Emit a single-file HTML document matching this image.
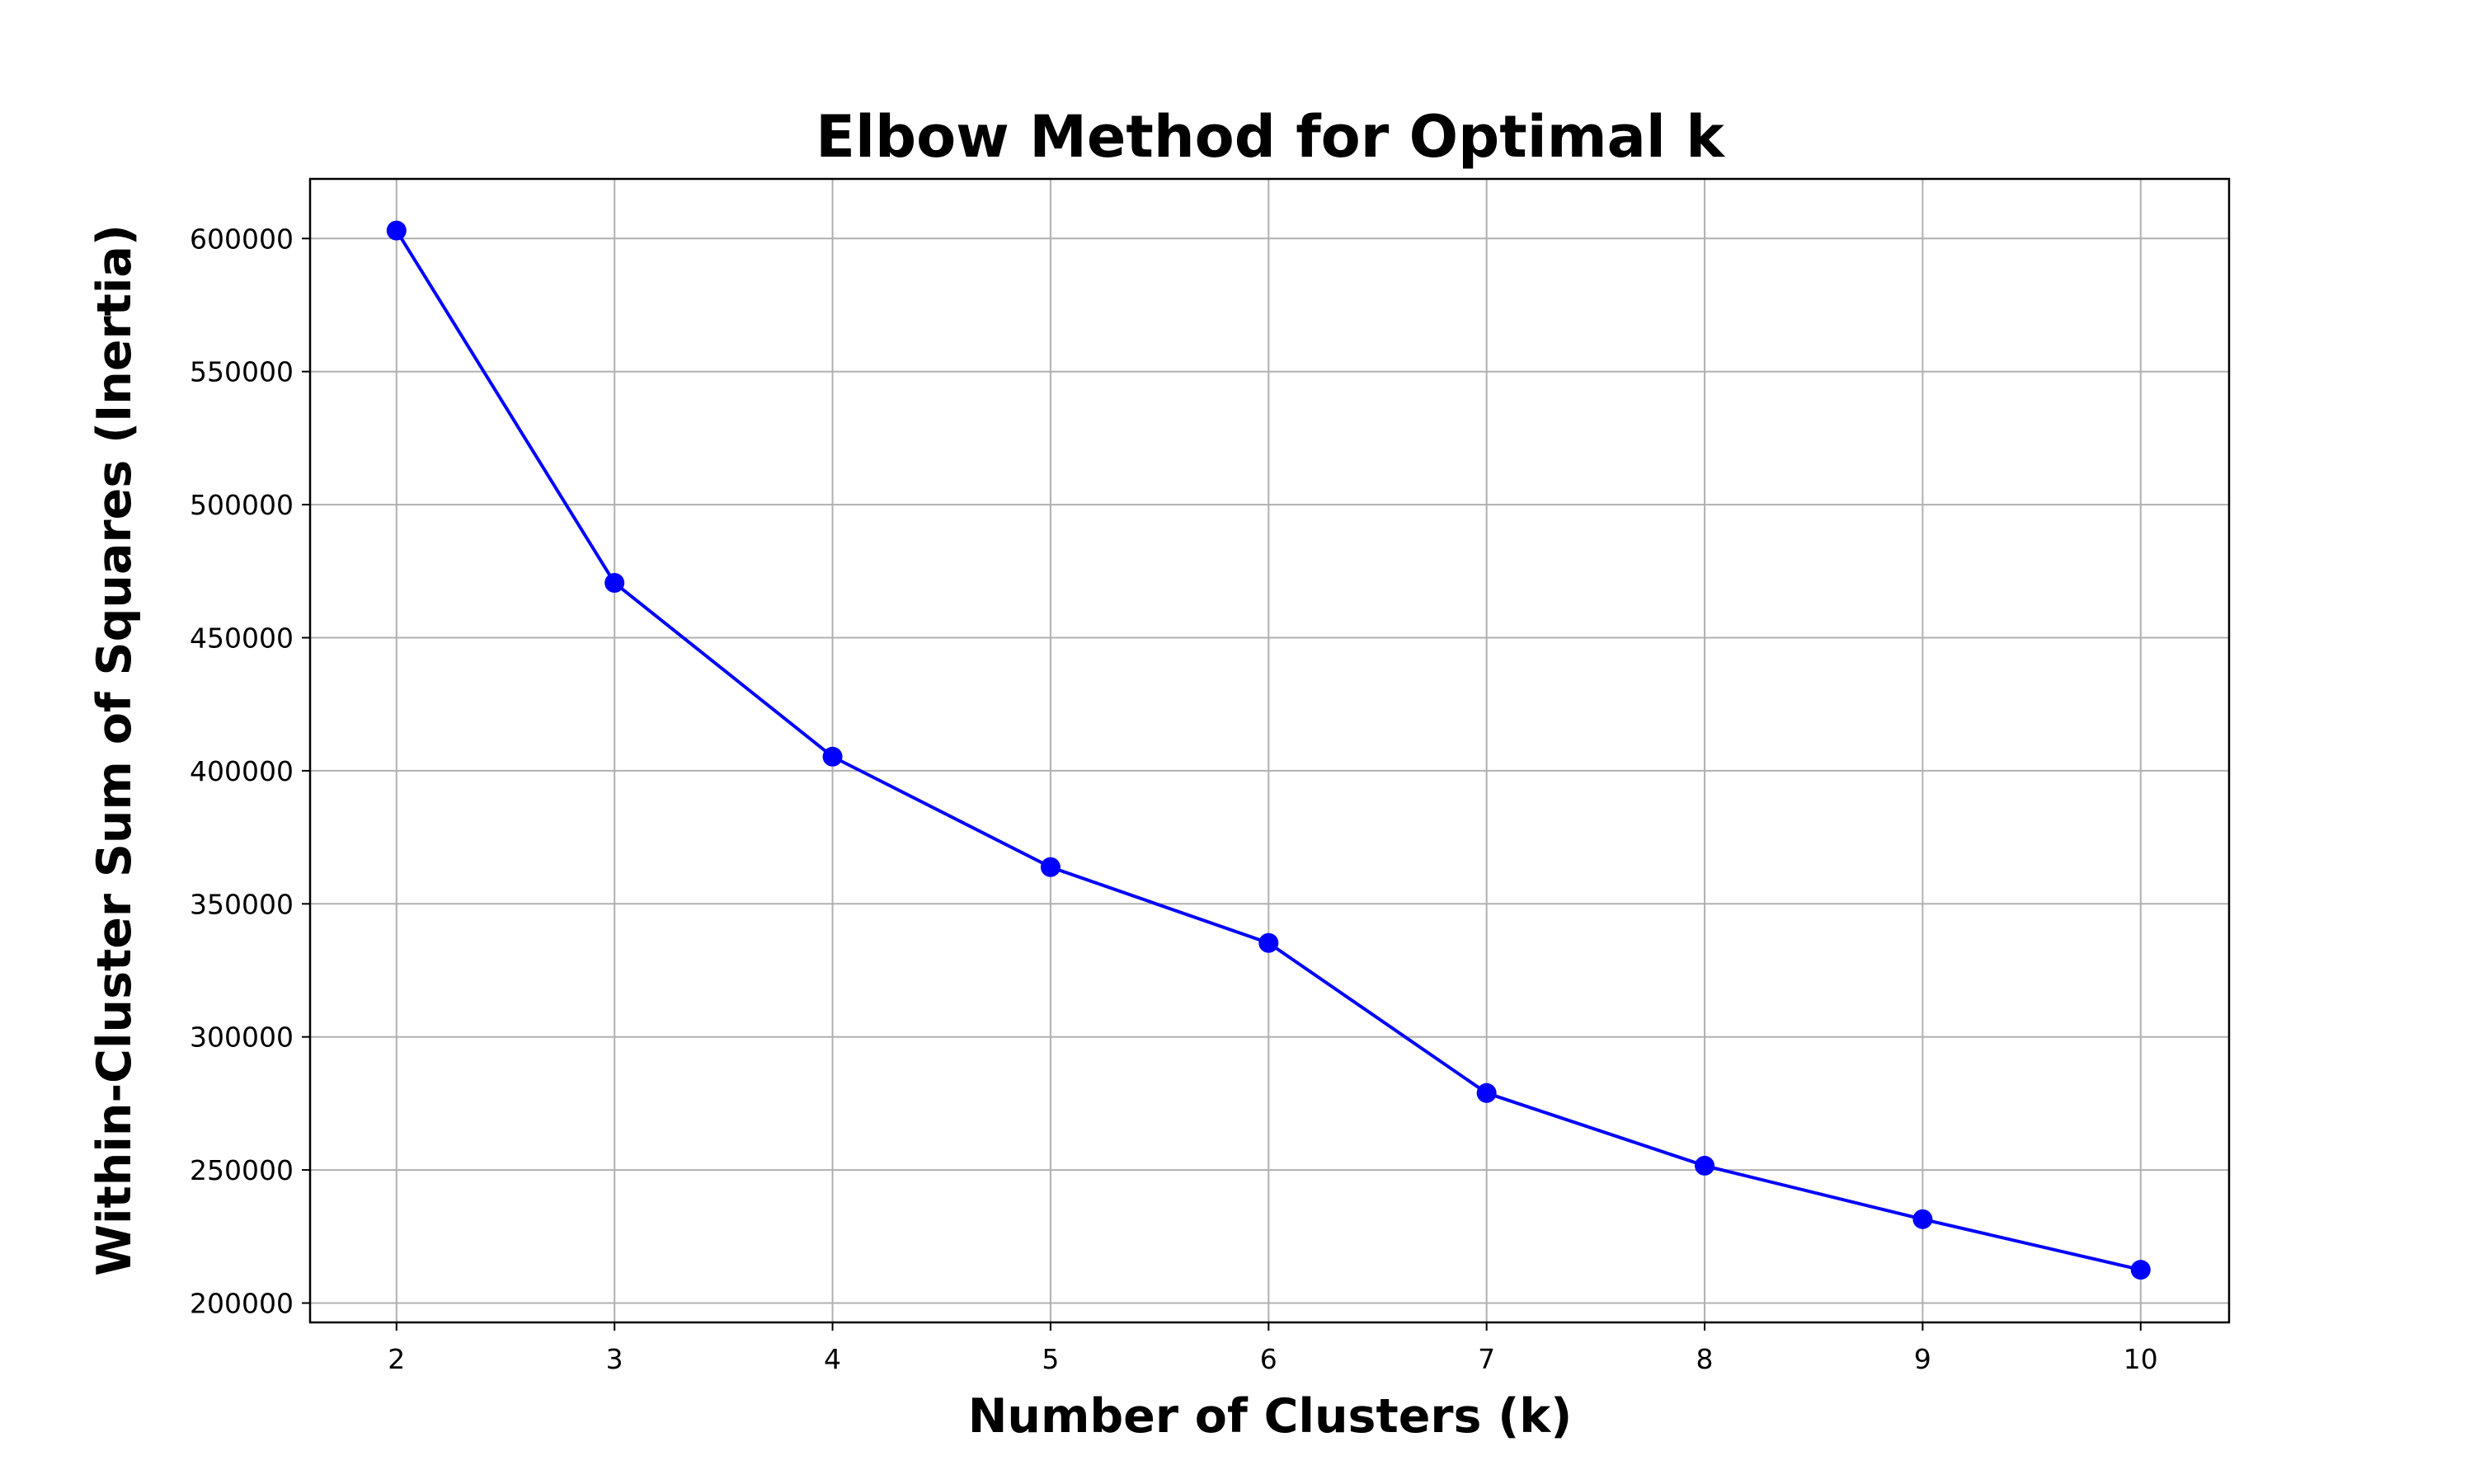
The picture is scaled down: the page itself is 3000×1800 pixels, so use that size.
<!DOCTYPE html>
<html><head><meta charset="utf-8"><style>body{margin:0;background:#fff}svg{display:block}text{font-family:"DejaVu Sans","Liberation Sans",sans-serif}</style></head>
<body>
<svg id="chart" width="3000" height="1800" xmlns="http://www.w3.org/2000/svg">
<rect width="3000" height="1800" fill="#fff"/>
<g id="grid"></g>
<g id="ticks"></g>
<g id="series"></g>
<rect x="376" y="217" width="2327" height="1387" fill="none" stroke="#000" stroke-width="2.5"/>
<text x="1540" y="190" text-anchor="middle" font-size="70" font-weight="bold">Elbow Method for Optimal k</text>
<text x="1540" y="1737" text-anchor="middle" font-size="57" font-weight="bold">Number of Clusters (k)</text>
<text transform="translate(158,910) rotate(-90)" text-anchor="middle" font-size="57" font-weight="bold">Within-Cluster Sum of Squares (Inertia)</text>
</svg>
<script>
const kValues=[2,3,4,5,6,7,8,9,10];
const inertia=[603000,470600,405300,363800,335300,278900,251600,231500,212500];
const yTicks=[200000,250000,300000,350000,400000,450000,500000,550000,600000];
const xTicks=[2,3,4,5,6,7,8,9,10];
const NS="http://www.w3.org/2000/svg";
const L=376,R=2703,T=217,B=1604;
function xs(v){return 480.8+(v-2)*(2595.8-480.8)/8;}
function ys(v){return 1580.5-(v-200000)*(1580.5-289.3)/400000;}
function mk(t,a,p){const e=document.createElementNS(NS,t);for(const k in a)e.setAttribute(k,a[k]);p.appendChild(e);return e;}
const g=document.getElementById('grid'),tk=document.getElementById('ticks'),s=document.getElementById('series');
xTicks.forEach(v=>{const x=xs(v);
const gl=mk('line',{x1:x,x2:x,y1:T,y2:B,stroke:'#b0b0b0','stroke-width':2},g);


const tl=mk('line',{x1:x,x2:x,y1:B,y2:B+10,stroke:'#000','stroke-width':2},tk);


const t=mk('text',{x:x,y:B+56,'text-anchor':'middle','font-size':33},tk);t.textContent=v;

});
yTicks.forEach(v=>{const y=ys(v);
const gl=mk('line',{x1:L,x2:R,y1:y,y2:y,stroke:'#b0b0b0','stroke-width':2},g);


const tl=mk('line',{x1:L-10,x2:L,y1:y,y2:y,stroke:'#000','stroke-width':2},tk);


const t=mk('text',{x:L-20,y:y+12,'text-anchor':'end','font-size':33},tk);t.textContent=v;

});
const pts=kValues.map((k,i)=>xs(k)+','+ys(inertia[i])).join(' ');
const pl=mk('polyline',{points:pts,fill:'none',stroke:'#0000ff','stroke-width':4},s);


kValues.forEach((k,i)=>{const c=mk('circle',{cx:xs(k),cy:ys(inertia[i]),r:12,fill:'#0000ff'},s);

});
</script>
</body></html>
